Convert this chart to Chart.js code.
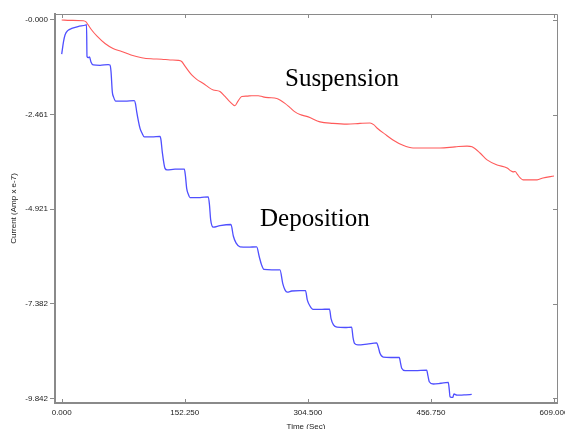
<!DOCTYPE html>
<html>
<head>
<meta charset="utf-8">
<script src="https://cdn.jsdelivr.net/npm/chart.js@4"></script>
<style>
html,body{margin:0;padding:0;background:#fff;}
#c{display:block;}
</style>
</head>
<body>
<canvas id="c" width="565" height="429"></canvas>
<script>
// ---- data ----
const suspensionTime = [0,10.3,26.7,30.1,32.5,37.1,43.7,53.6,63.5,74.2,85.7,99.0,110.5,123.7,134.0,144.2,148.4,152.5,160.8,167.4,175.2,182.2,187.5,195.8,202.0,208.2,214.3,218.1,222.7,228.9,235.4,243.2,249.0,255.6,266.0,270.0,276.2,282.4,288.6,294.8,305.0,319.5,335.6,352.9,369.0,381.4,386.3,390.0,399.9,409.8,422.2,434.6,450.6,467.9,486.5,501.4,507.6,517.5,526.2,538.6,551.0,556.0,558.5,560.9,563.5,567.2,570.6,579.3,588.0,595.4,609.0];
const suspensionCurrent = [0,-0.01,-0.02,-0.05,-0.12,-0.26,-0.42,-0.61,-0.74,-0.82,-0.91,-0.98,-1.01,-1.02,-1.04,-1.05,-1.08,-1.20,-1.43,-1.55,-1.65,-1.76,-1.82,-1.86,-1.99,-2.13,-2.23,-2.11,-1.99,-1.98,-1.97,-1.97,-2.00,-2.02,-2.04,-2.08,-2.17,-2.28,-2.39,-2.46,-2.52,-2.65,-2.69,-2.71,-2.69,-2.68,-2.73,-2.81,-2.97,-3.12,-3.26,-3.33,-3.33,-3.33,-3.30,-3.28,-3.30,-3.46,-3.64,-3.77,-3.85,-3.93,-3.95,-3.94,-4.01,-4.11,-4.16,-4.16,-4.16,-4.11,-4.06];

const depositionTime = [0,2.2,4.1,7.8,12.4,20.2,29.7,30.7,31.3,32.9,34.4,36.2,39.1,47.4,57.6,59.7,61.0,62.6,64.1,66.8,78.3,89.8,91.3,92.8,96.9,99.3,102.2,111.7,121.6,122.8,124.4,127.8,130.3,140.2,151.7,153.1,154.6,156.6,158.7,171.1,181.3,182.8,184.3,187.5,195.8,209.4,212.3,215.6,220.6,230.5,241.2,244.4,247.2,250.2,260.1,270.0,273.4,276.2,279.1,284.5,294.8,301.6,303.8,307.1,310.9,319.5,331.3,333.1,336.2,340.5,350.4,358.7,360.3,362.2,366.5,377.7,389.6,391.9,393.7,397.8,407.3,417.6,419.1,420.6,424.7,437.1,451.5,453.1,454.7,459.7,469.2,478.2,479.5,480.3,483.7,485.3,489.0,492.7,500.1,507.2];
const depositionCurrent = [-0.89,-0.57,-0.39,-0.27,-0.22,-0.17,-0.13,-0.12,-0.95,-0.98,-0.96,-1.09,-1.17,-1.18,-1.16,-1.17,-1.34,-1.87,-2.00,-2.11,-2.11,-2.10,-2.18,-2.39,-2.82,-2.94,-3.04,-3.04,-3.03,-3.12,-3.43,-3.86,-3.90,-3.88,-3.88,-4.06,-4.38,-4.53,-4.62,-4.62,-4.60,-4.81,-5.20,-5.39,-5.35,-5.32,-5.62,-5.80,-5.90,-5.91,-5.90,-6.16,-6.37,-6.49,-6.50,-6.50,-6.85,-7.02,-7.08,-7.05,-7.04,-7.04,-7.28,-7.44,-7.53,-7.53,-7.52,-7.76,-7.93,-7.99,-8.00,-7.99,-8.25,-8.41,-8.45,-8.43,-8.40,-8.53,-8.67,-8.77,-8.78,-8.78,-8.92,-9.06,-9.12,-9.12,-9.11,-9.26,-9.41,-9.47,-9.45,-9.43,-9.63,-9.80,-9.82,-9.73,-9.76,-9.76,-9.75,-9.74];

const xTickValues = [0,152.25,304.5,456.75,609];
const xTickLabels = ["0.000","152.250","304.500","456.750","609.000"];
const yTickValues = [0,-2.4605,-4.921,-7.3815,-9.842];
const yTickLabels = ["-0.000","-2.461","-4.921","-7.382","-9.842"];

const seriesNames = ["Suspension","Deposition"];
// annotation anchor (data coords)
const labelTime = [276.2, 245.3];
const labelCurrent = [-1.717, -5.359];

// ---- chart ----
const toPoints = (xs, ys) => xs.map((x,i)=>({x:x, y:ys[i]}));

const frameColor = '#8a8a8a';

const framePlugin = {
  id:'frame',
  afterDraw(chart){
    const {ctx, chartArea:a, scales} = chart;
    ctx.save();
    ctx.strokeStyle = frameColor;
    ctx.lineWidth = 1;
    ctx.beginPath();
    ctx.moveTo(a.left, a.top+0.5); ctx.lineTo(a.right+0.5, a.top+0.5);
    ctx.lineTo(a.right+0.5, a.bottom);
    ctx.stroke();
    // inner ticks
    ctx.beginPath();
    xTickValues.forEach(v=>{
      const px = Math.round(scales.x.getPixelForValue(v))+0.5;
      ctx.moveTo(px, a.top); ctx.lineTo(px, a.top+4);
      ctx.moveTo(px, a.bottom); ctx.lineTo(px, a.bottom-4);
    });
    yTickValues.forEach(v=>{
      const py = Math.round(scales.y.getPixelForValue(v))+0.5;
      ctx.moveTo(a.right, py); ctx.lineTo(a.right-4, py);
    });
    ctx.stroke();
    // series labels
    ctx.fillStyle = '#000';
    ctx.font = '25px "Liberation Serif", "Times New Roman", serif';
    ctx.textAlign = 'left';
    ctx.textBaseline = 'alphabetic';
    seriesNames.forEach((n,i)=>{
      ctx.fillText(n, scales.x.getPixelForValue(labelTime[i]), scales.y.getPixelForValue(labelCurrent[i]));
    });
    ctx.restore();
  }
};

const tickFont = {family:'"Liberation Sans", Arial, sans-serif', size:8};

new Chart(document.getElementById('c'), {
  type:'line',
  data:{
    datasets:[
      {label:seriesNames[0], data:toPoints(suspensionTime, suspensionCurrent), borderColor:'#ff5a5a', borderWidth:1.1, pointRadius:0, cubicInterpolationMode:'monotone', fill:false},
      {label:seriesNames[1], data:toPoints(depositionTime, depositionCurrent), borderColor:'#4f4fff', borderWidth:1.3, pointRadius:0, cubicInterpolationMode:'monotone', fill:false}
    ]
  },
  options:{
    responsive:false,
    animation:false,
    devicePixelRatio:1,
    layout:{padding:{left:0,right:8,top:14,bottom:0}},
    plugins:{legend:{display:false}, tooltip:{enabled:false}},
    scales:{
      x:{
        type:'linear', min:-8.29, max:612.7,
        afterBuildTicks(s){ s.ticks = xTickValues.map(v=>({value:v})); },
        afterFit(s){ s.height = 26; s.paddingLeft = 0; s.paddingRight = 0; },
        ticks:{ callback:(v,i)=>xTickLabels[i], font:tickFont, color:'#222', padding:4.5, maxRotation:0, autoSkip:false },
        grid:{ display:false, drawTicks:false },
        border:{ display:true, color:frameColor, width:2 },
        title:{ display:true, text:'Time (Sec)', font:tickFont, color:'#222', padding:{top:0,bottom:-3} }
      },
      y:{
        type:'linear', min:-9.964, max:0.156,
        afterBuildTicks(s){ s.ticks = yTickValues.map(v=>({value:v})); },
        afterFit(s){ s.width = 55; s.paddingTop = 0; s.paddingBottom = 0; },
        ticks:{ callback:(v,i)=>yTickLabels[i], font:tickFont, color:'#222', padding:2, autoSkip:false },
        grid:{ display:true, drawOnChartArea:false, drawTicks:true, tickLength:5, color:frameColor, lineWidth:1 },
        border:{ display:true, color:frameColor, width:2 },
        title:{ display:true, text:'Current (Amp x e-7)', font:tickFont, color:'#222', padding:{top:9,bottom:0} }
      }
    }
  },
  plugins:[framePlugin]
});
</script>
</body>
</html>
